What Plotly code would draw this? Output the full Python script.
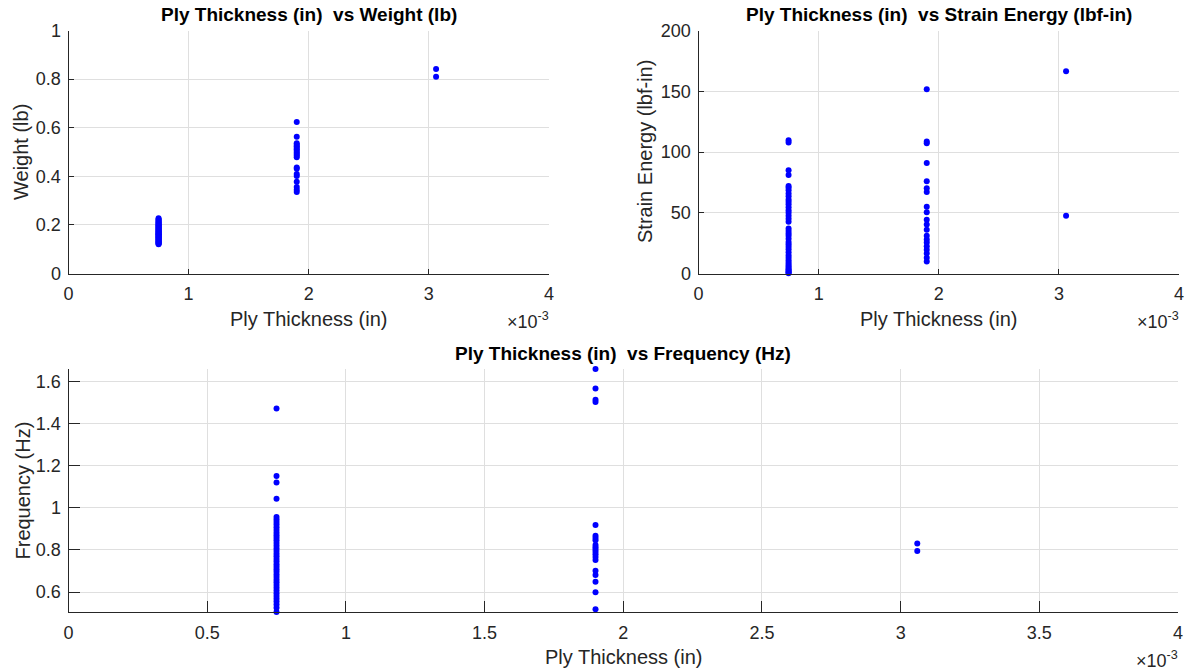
import plotly.graph_objects as go

# Ply thickness groups (in)
thk_a = 0.00075
thk_b = 0.0019
thk_c = 0.00306

# Weight (lb) per thickness group
weight_a = [0.120, 0.122, 0.125, 0.128, 0.130, 0.133, 0.136, 0.138, 0.141, 0.143,
            0.146, 0.148, 0.150, 0.153, 0.155, 0.158, 0.160, 0.162, 0.165, 0.167,
            0.169, 0.172, 0.174, 0.177, 0.179, 0.182, 0.185, 0.187, 0.190, 0.193,
            0.196, 0.199, 0.202, 0.205, 0.208, 0.211, 0.215, 0.219, 0.223, 0.227]
weight_b = [0.623, 0.563, 0.536, 0.530, 0.524, 0.518, 0.511, 0.505, 0.498, 0.492,
            0.486, 0.478, 0.436, 0.431, 0.409, 0.401, 0.378, 0.356, 0.345, 0.335]
weight_c = [0.842, 0.810]

# Strain energy (lbf-in) per thickness group
energy_a = [109.7, 107.8, 85.0, 81.0, 72.0, 70.5, 68.6, 65.8, 63.5, 61.0,
            59.0, 57.0, 54.5, 52.0, 50.0, 47.5, 45.0, 42.5, 37.0, 35.0,
            33.0, 31.0, 28.5, 26.0, 24.0, 22.0, 20.0, 17.5, 15.0, 13.0,
            11.0, 9.0, 7.5, 6.0, 4.5, 3.5, 2.5, 1.5, 0.8, 0.2]
energy_b = [151.7, 108.6, 107.2, 91.0, 75.9, 70.2, 67.0, 54.9, 50.4, 44.2,
            40.3, 36.0, 31.0, 28.0, 25.5, 22.5, 19.5, 16.5, 13.0, 9.8]
energy_c = [166.5, 47.5]

# Frequency (Hz) per thickness group
freq_a = [1.472, 1.152, 1.121, 1.043, 0.956, 0.945, 0.933, 0.921, 0.908, 0.895,
          0.882, 0.870, 0.858, 0.846, 0.833, 0.820, 0.807, 0.795, 0.782, 0.770,
          0.757, 0.745, 0.732, 0.720, 0.708, 0.696, 0.683, 0.671, 0.658, 0.646,
          0.633, 0.620, 0.607, 0.594, 0.581, 0.568, 0.555, 0.541, 0.525, 0.505]
freq_b = [1.660, 1.567, 1.514, 1.503, 0.919, 0.868, 0.857, 0.846, 0.824, 0.813,
          0.802, 0.791, 0.780, 0.766, 0.752, 0.701, 0.681, 0.649, 0.599, 0.518]
freq_c = [0.830, 0.795]

x_ticks_top = [0, 1, 2, 3, 4]
x_ticks_bottom = [0, 0.5, 1, 1.5, 2, 2.5, 3, 3.5, 4]
weight_ticks = [0, 0.2, 0.4, 0.6, 0.8, 1]
energy_ticks = [0, 50, 100, 150, 200]
freq_ticks = [0.6, 0.8, 1, 1.2, 1.4, 1.6]

W, H = 1188, 670
FONT = "Liberation Sans, Arial, Helvetica, sans-serif"
INK = "#262626"
GRID = "#dfdfdf"
BLUE = "#0000ff"
TICK_SIZE = 18
LABEL_SIZE = 20
TITLE_SIZE = 19


def col(thk, vals):
    return [thk] * len(vals)


def fmt(v):
    return "%g" % v


fig = go.Figure()

panels = [
    dict(xa="x", ya="y", ys=(weight_a, weight_b, weight_c)),
    dict(xa="x2", ya="y2", ys=(energy_a, energy_b, energy_c)),
    dict(xa="x3", ya="y3", ys=(freq_a, freq_b, freq_c)),
]
for p in panels:
    xs = col(thk_a, p["ys"][0]) + col(thk_b, p["ys"][1]) + col(thk_c, p["ys"][2])
    ys = list(p["ys"][0]) + list(p["ys"][1]) + list(p["ys"][2])
    fig.add_trace(go.Scatter(
        x=xs, y=ys, mode="markers", xaxis=p["xa"], yaxis=p["ya"],
        marker=dict(color=BLUE, size=6, line=dict(width=0)),
        cliponaxis=False, showlegend=False, hoverinfo="x+y",
    ))


def xaxis_cfg(domain, anchor, ticks, ticklen):
    return dict(
        domain=domain, anchor=anchor, range=[0, 0.004],
        tickvals=[t * 1e-3 for t in ticks], ticktext=[fmt(t) for t in ticks],
        showline=True, linecolor=INK, linewidth=1, mirror=False,
        ticks="inside", ticklen=ticklen, tickcolor=INK, tickwidth=1,
        showgrid=True, gridcolor=GRID, gridwidth=1, zeroline=False,
        tickfont=dict(family=FONT, size=TICK_SIZE, color=INK),
        ticklabelstandoff=4, automargin=False, fixedrange=True,
    )


def yaxis_cfg(domain, anchor, rng, ticks, ticklen):
    return dict(
        domain=domain, anchor=anchor, range=rng,
        tickvals=ticks, ticktext=[fmt(t) for t in ticks],
        showline=True, linecolor=INK, linewidth=1, mirror=False,
        ticks="inside", ticklen=ticklen, tickcolor=INK, tickwidth=1,
        showgrid=True, gridcolor=GRID, gridwidth=1, zeroline=False,
        tickfont=dict(family=FONT, size=TICK_SIZE, color=INK),
        ticklabelstandoff=3, automargin=False, fixedrange=True,
    )


# panel boxes in pixels: (left, right, top, bottom)
box_tl = (68.5, 549, 30.5, 273.5)
box_tr = (698.5, 1179, 30.5, 273.5)
box_bt = (68.5, 1178, 369, 612)


def xd(b):
    return [b[0] / W, b[1] / W]


def yd(b):
    return [1 - b[3] / H, 1 - b[2] / H]


fig.update_layout(
    width=W, height=H,
    margin=dict(l=0, r=0, t=0, b=0),
    paper_bgcolor="white", plot_bgcolor="white",
    xaxis=xaxis_cfg(xd(box_tl), "y", x_ticks_top, 5),
    yaxis=yaxis_cfg(yd(box_tl), "x", [0, 1], weight_ticks, 5),
    xaxis2=xaxis_cfg(xd(box_tr), "y2", x_ticks_top, 5),
    yaxis2=yaxis_cfg(yd(box_tr), "x2", [0, 200], energy_ticks, 5),
    xaxis3=xaxis_cfg(xd(box_bt), "y3", x_ticks_bottom, 11),
    yaxis3=yaxis_cfg(yd(box_bt), "x3", [0.505, 1.66], freq_ticks, 11),
)

titles = [
    (box_tl, "Ply Thickness (in)  vs Weight (lb)", "Weight (lb)", 21),
    (box_tr, "Ply Thickness (in)  vs Strain Energy (lbf-in)", "Strain Energy (lbf-in)", 645),
    (box_bt, "Ply Thickness (in)  vs Frequency (Hz)", "Frequency (Hz)", 22),
]
ann = []
for b, title, ylab, ylx in titles:
    cx = (b[0] + b[1]) / 2
    cy = (b[2] + b[3]) / 2
    ann.append(dict(x=cx / W, y=1 - (b[2] - 3) / H, xref="paper", yref="paper",
                    text="<b>" + title + "</b>", showarrow=False,
                    xanchor="center", yanchor="bottom",
                    font=dict(family=FONT, size=TITLE_SIZE, color="black")))
    ann.append(dict(x=cx / W, y=1 - (b[3] + 45) / H, xref="paper", yref="paper",
                    text="Ply Thickness (in)", showarrow=False,
                    xanchor="center", yanchor="middle",
                    font=dict(family=FONT, size=LABEL_SIZE, color=INK)))
    ann.append(dict(x=ylx / W, y=1 - cy / H, xref="paper", yref="paper",
                    text=ylab, showarrow=False, textangle=-90,
                    xanchor="center", yanchor="middle",
                    font=dict(family=FONT, size=LABEL_SIZE, color=INK)))
    ann.append(dict(x=(b[1] + 2) / W, y=1 - (b[3] + 47) / H, xref="paper", yref="paper",
                    text="\u00d710<sup>-3</sup>", showarrow=False,
                    xanchor="right", yanchor="middle",
                    font=dict(family=FONT, size=TICK_SIZE, color=INK)))
fig.update_layout(annotations=ann)

fig.write_html("out.html")
